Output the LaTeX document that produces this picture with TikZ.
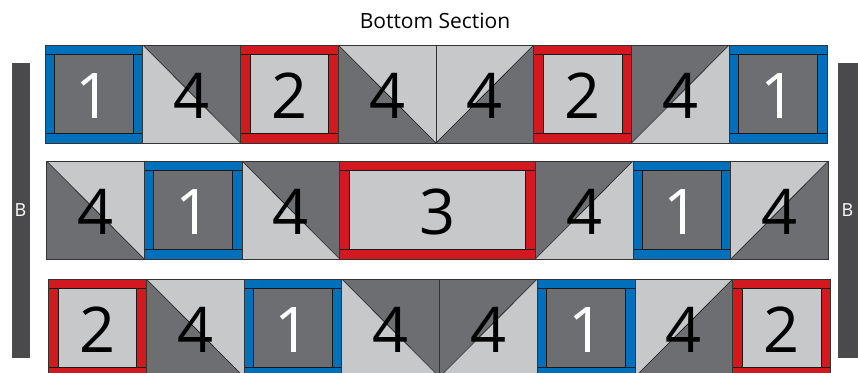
\documentclass[tikz,border=0pt]{standalone}
\usepackage{fontspec}
\setmainfont{Open Sans}
\usepackage{tikz}
\usetikzlibrary{positioning}
\definecolor{QBlue}{RGB}{0,112,186}
\definecolor{QRed}{RGB}{210,25,32}
\definecolor{QDark}{RGB}{109,110,113}
\definecolor{QLight}{RGB}{199,200,202}
\definecolor{QBar}{RGB}{74,74,76}
\tikzset{
  q/edge/.style={draw=black!80, line width=0.7pt},
  q/seam/.style={draw=black!90, line width=0.6pt},
  q/num/.style={font=\fontsize{63}{63}\selectfont, inner sep=0pt},
  q/bar/.style={fill=QBar, draw=black!70, line width=0.5pt, minimum width=17pt,
    minimum height=294pt, inner sep=0pt, text=white, font=\fontsize{18}{18}\selectfont},
  q/title/.style={font=\fontsize{21}{21}\selectfont, inner sep=0pt}
}
% framed block: name, x, y, width, frame colour, centre colour, text colour, label
\newcommand{\frameblk}[8]{%
  \begin{scope}[shift={(#2,#3)}]
    \fill[#5] (0,0) rectangle (#4,98);
    \fill[#6] (9.5,9.5) rectangle ({#4-9.5},88.5);
    \draw[q/seam] (0,9.5) -- (#4,9.5) (0,88.5) -- (#4,88.5)
      (9.5,9.5) -- (9.5,88.5) ({#4-9.5},9.5) -- ({#4-9.5},88.5);
    \draw[q/edge] (0,0) rectangle (#4,98);
    \node[q/num, text=#7] (#1) at ({#4/2},51) {#8};
  \end{scope}}
% half-square, seam top-left to bottom-right: name, x, y, upper-right, lower-left
\newcommand{\hstback}[5]{%
  \begin{scope}[shift={(#2,#3)}]
    \fill[#4] (0,0) -- (97.75,0) -- (97.75,98) -- cycle;
    \fill[#5] (0,0) -- (0,98) -- (97.75,98) -- cycle;
    \draw[q/seam] (0,0) -- (97.75,98);
    \draw[q/edge] (0,0) rectangle (97.75,98);
    \node[q/num] (#1) at (48.9,51) {4};
  \end{scope}}
% half-square, seam bottom-left to top-right: name, x, y, upper-left, lower-right
\newcommand{\hstfwd}[5]{%
  \begin{scope}[shift={(#2,#3)}]
    \fill[#4] (0,0) -- (97.75,0) -- (0,98) -- cycle;
    \fill[#5] (97.75,0) -- (97.75,98) -- (0,98) -- cycle;
    \draw[q/seam] (0,98) -- (97.75,0);
    \draw[q/edge] (0,0) rectangle (97.75,98);
    \node[q/num] (#1) at (48.9,51) {4};
  \end{scope}}

\begin{document}
\begin{tikzpicture}[x=1pt,y=-1pt]
\clip (0,0) rectangle (858,372);
\fill[white] (0,0) rectangle (858,372);

% Title
\node[q/title] (title) at (435,21) {Bottom Section};

% Side bars
\node[q/bar] (barL) at (20.5,210) {B};
\node[q/bar, minimum width=19pt] (barR) at (847.5,210.5) {B};

% Row 1
\frameblk{ra1}{45}{45}{97.75}{QBlue}{QDark}{white}{1}
\hstback{ra2}{142.75}{45}{QDark}{QLight}
\frameblk{ra3}{240.5}{45}{97.75}{QRed}{QLight}{black}{2}
\hstback{ra4}{338.25}{45}{QLight}{QDark}
\hstfwd{ra5}{436}{45}{QLight}{QDark}
\frameblk{ra6}{533.75}{45}{97.75}{QRed}{QLight}{black}{2}
\hstfwd{ra7}{631.5}{45}{QDark}{QLight}
\frameblk{ra8}{729.25}{45}{97.75}{QBlue}{QDark}{white}{1}

% Row 2
\hstback{rb1}{46.5}{161}{QLight}{QDark}
\frameblk{rb2}{144.25}{161}{97.75}{QBlue}{QDark}{white}{1}
\hstback{rb3}{242}{161}{QDark}{QLight}
\frameblk{rb4}{339.75}{161}{195.5}{QRed}{QLight}{black}{3}
\hstfwd{rb5}{535.25}{161}{QDark}{QLight}
\frameblk{rb6}{633}{161}{97.75}{QBlue}{QDark}{white}{1}
\hstfwd{rb7}{730.75}{161}{QLight}{QDark}

% Row 3
\frameblk{rc1}{48.5}{279}{97.75}{QRed}{QLight}{black}{2}
\hstback{rc2}{146.25}{279}{QLight}{QDark}
\frameblk{rc3}{244}{279}{97.75}{QBlue}{QDark}{white}{1}
\hstback{rc4}{341.75}{279}{QDark}{QLight}
\hstfwd{rc5}{439.5}{279}{QDark}{QLight}
\frameblk{rc6}{537.25}{279}{97.75}{QBlue}{QDark}{white}{1}
\hstfwd{rc7}{635}{279}{QLight}{QDark}
\frameblk{rc8}{732.75}{279}{97.75}{QRed}{QLight}{black}{2}
\end{tikzpicture}
\end{document}
